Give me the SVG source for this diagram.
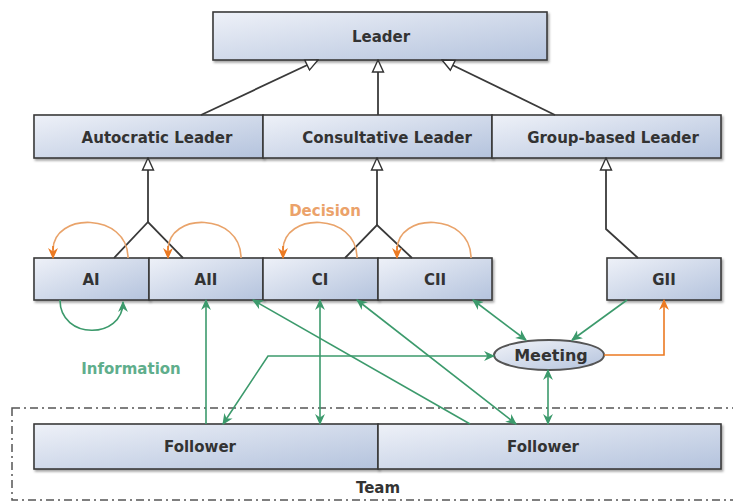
<svg xmlns="http://www.w3.org/2000/svg" width="733" height="502" viewBox="0 0 733 502">
<defs>
  <linearGradient id="box" x1="0" y1="0" x2="1" y2="1">
    <stop offset="0" stop-color="#eef1f8"/>
    <stop offset="1" stop-color="#b4c3dd"/>
  </linearGradient>
  <linearGradient id="ell" x1="0" y1="0" x2="1" y2="1">
    <stop offset="0" stop-color="#f2f4f9"/>
    <stop offset="1" stop-color="#b4c3dd"/>
  </linearGradient>
  <marker id="hollow" viewBox="0 0 14 14" refX="13" refY="7" markerWidth="14" markerHeight="14" markerUnits="userSpaceOnUse" orient="auto-start-reverse">
    <path d="M1,1.5 L13,7 L1,12.5 Z" fill="#fff" stroke="#333" stroke-width="1.4"/>
  </marker>
  <marker id="ga" viewBox="0 0 10 10" refX="9" refY="5" markerWidth="11" markerHeight="11" markerUnits="userSpaceOnUse" orient="auto-start-reverse">
    <path d="M0,0.5 L10,5 L0,9.5 L3,5 Z" fill="#3c9a6c"/>
  </marker>
  <marker id="oa" viewBox="0 0 10 10" refX="9" refY="5" markerWidth="11" markerHeight="11" markerUnits="userSpaceOnUse" orient="auto-start-reverse">
    <path d="M0,0.5 L10,5 L0,9.5 L3,5 Z" fill="#ec7a22"/>
  </marker>
  <filter id="sh" x="-5%" y="-10%" width="110%" height="130%">
    <feDropShadow dx="1.5" dy="2" stdDeviation="1.2" flood-color="#000" flood-opacity="0.35"/>
  </filter>
</defs>
<style>
  .b{fill:url(#box);stroke:#3a3a3a;stroke-width:1.6;filter:url(#sh)}
  .t{font-family:"DejaVu Sans",sans-serif;font-size:15px;font-weight:bold;fill:#333;text-anchor:middle;dominant-baseline:central}
  .inh{fill:none;stroke:#3a3a3a;stroke-width:1.8}
  .g{fill:none;stroke:#3c9a6c;stroke-width:1.6}
  .o{fill:none;stroke:#ec7a22;stroke-width:1.6}
  .ol{fill:none;stroke:#e9a36a;stroke-width:1.6}
  .lbl{font-family:"DejaVu Sans",sans-serif;font-size:15px;font-weight:bold;text-anchor:middle;dominant-baseline:central}
</style>
<rect x="0" y="0" width="733" height="502" fill="#fff"/>

<g id="team">
  <rect x="12" y="408" width="740" height="92" fill="none" stroke="#555" stroke-width="1.5" stroke-dasharray="8,4,2,4"/>
  <text x="378" y="488" class="t">Team</text>
</g>

<g id="leader"><rect class="b" x="213" y="12" width="334" height="48"/><text class="t" x="381" y="37">Leader</text></g>
<g id="autocratic"><rect class="b" x="34" y="115" width="229" height="43"/><text class="t" x="157" y="138">Autocratic Leader</text></g>
<g id="consultative"><rect class="b" x="263" y="115" width="229" height="43"/><text class="t" x="387" y="138">Consultative Leader</text></g>
<g id="group"><rect class="b" x="492" y="115" width="229" height="43"/><text class="t" x="613" y="138">Group-based Leader</text></g>

<g id="ai"><rect class="b" x="34" y="258" width="115" height="42"/><text class="t" x="91" y="280">AI</text></g>
<g id="aii"><rect class="b" x="149" y="258" width="114" height="42"/><text class="t" x="206" y="280">AII</text></g>
<g id="ci"><rect class="b" x="263" y="258" width="115" height="42"/><text class="t" x="320" y="280">CI</text></g>
<g id="cii"><rect class="b" x="378" y="258" width="114" height="42"/><text class="t" x="435" y="280">CII</text></g>
<g id="gii"><rect class="b" x="607" y="258" width="114" height="42"/><text class="t" x="664" y="280">GII</text></g>

<g id="follower1"><rect class="b" x="34" y="424" width="344" height="45"/><text class="t" x="200" y="447">Follower</text></g>
<g id="follower2"><rect class="b" x="378" y="424" width="343" height="45"/><text class="t" x="543" y="447">Follower</text></g>

<g id="meeting"><ellipse cx="549" cy="355" rx="55" ry="15" fill="url(#ell)" stroke="#555" stroke-width="2"/><text class="t" x="551" y="355" style="font-size:16px">Meeting</text></g>

<g id="connectors">
  <!-- inheritance to Leader -->
  <line class="inh" x1="201" y1="115" x2="318" y2="60" marker-end="url(#hollow)"/>
  <line class="inh" x1="378" y1="115" x2="378" y2="60" marker-end="url(#hollow)"/>
  <line class="inh" x1="555" y1="115" x2="442" y2="60" marker-end="url(#hollow)"/>
  <!-- subtypes -->
  <polyline class="inh" points="148,158 148,222" marker-start="url(#hollow)"/>
  <polyline class="inh" points="114,258 148,222 183,258"/>
  <polyline class="inh" points="377,158 377,225" marker-start="url(#hollow)"/>
  <polyline class="inh" points="345,258 377,225 412,258"/>
  <polyline class="inh" points="606,158 606,229 638,258" marker-start="url(#hollow)"/>

  <!-- decision loops -->
  <path class="ol" d="M128,258 C128,212 53,212 53,250"/>
  <path class="o" d="M53,246 L53,258" marker-end="url(#oa)"/>
  <path class="ol" d="M241,258 C241,212 168,212 168,250"/>
  <path class="o" d="M168,246 L168,258" marker-end="url(#oa)"/>
  <path class="ol" d="M357,258 C357,212 283,212 283,250"/>
  <path class="o" d="M283,246 L283,258" marker-end="url(#oa)"/>
  <path class="ol" d="M471,258 C471,212 397,212 397,250"/>
  <path class="o" d="M397,246 L397,258" marker-end="url(#oa)"/>
  <text x="325" y="211" class="lbl" fill="#eba26a">Decision</text>

  <!-- information loop -->
  <path class="g" d="M60,300 C60,340 123,340 123,302" marker-end="url(#ga)"/>
  <text x="131" y="369" class="lbl" fill="#5fae8c">Information</text>

  <!-- green connectors -->
  <line class="g" x1="206" y1="424" x2="206" y2="300" marker-end="url(#ga)"/>
  <line class="g" x1="320" y1="300" x2="320" y2="424" marker-start="url(#ga)" marker-end="url(#ga)"/>
  <line class="g" x1="470" y1="424" x2="253" y2="300" marker-end="url(#ga)"/>
  <line class="g" x1="357" y1="300" x2="516" y2="424" marker-start="url(#ga)" marker-end="url(#ga)"/>
  <polyline class="g" points="223,424 268,356 494,356" marker-start="url(#ga)" marker-end="url(#ga)"/>
  <line class="g" x1="473" y1="300" x2="526" y2="340" marker-start="url(#ga)" marker-end="url(#ga)"/>
  <line class="g" x1="627" y1="300" x2="572" y2="340" marker-end="url(#ga)"/>
  <line class="g" x1="548" y1="370" x2="548" y2="424" marker-start="url(#ga)" marker-end="url(#ga)"/>
  <polyline class="o" points="604,355 664,355 664,300" marker-end="url(#oa)"/>
</g>
</svg>
